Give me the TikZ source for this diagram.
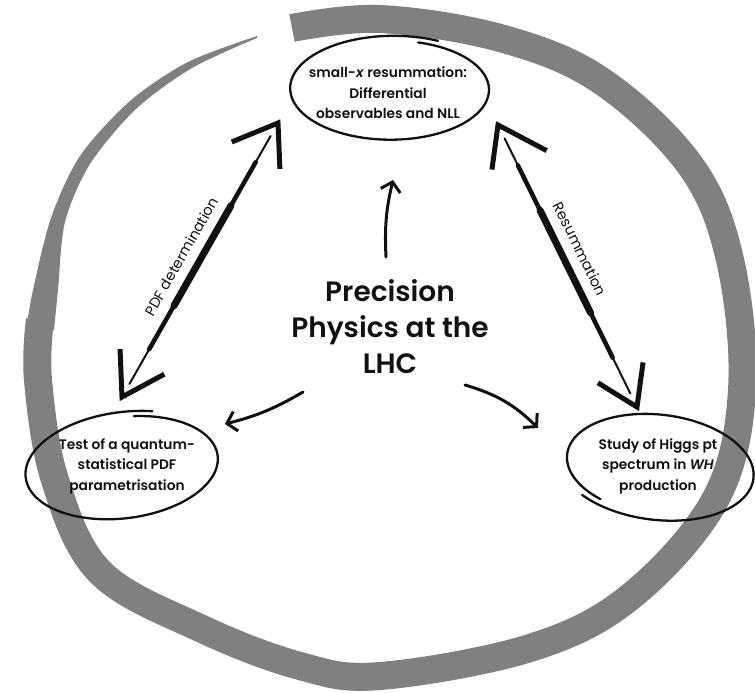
\documentclass[tikz,border=0pt]{standalone}
\usepackage{fontspec}
\setmainfont{Poppins}[BoldFont={Poppins SemiBold}]
\usepackage{xcolor}
\usetikzlibrary{arrows.meta,calc}
\definecolor{INK}{HTML}{111111}
\definecolor{BRUSH}{HTML}{808080}

\begin{document}
\begin{tikzpicture}[
    x=1pt, y=-1pt,
    brush/.style={draw=BRUSH, line width=28pt, line cap=butt},
    oval/.style={draw=INK, line width=2.3pt, line cap=round},
    topic/.style={align=center, font=\bfseries\fontsize{13.8}{20.5}\selectfont, text=INK},
    title/.style={align=center, font=\bfseries\fontsize{28}{36}\selectfont, text=INK},
    flow/.style={draw=INK, line width=3pt, line cap=round, -{Straight Barb[length=9pt, width=20pt, line width=3pt]}},
    shaft/.style={draw=INK, line cap=round},
    barb/.style={draw=INK, line width=5pt, line join=miter},
    edgelab/.style={font=\fontsize{14.5}{16}\selectfont, text=INK},
  ]
  \useasboundingbox (0,0) rectangle (755,693);

  % brush ring
  \draw[brush] plot[smooth, tension=0.6] coordinates {(292,28) (380,19) (500,38) (600,80) (690,165) (730,260) (742,390) (715,500) (630,597) (530,648) (380,676) (300,666) (200,628) (100,572) (55,480) (38,380) (40,320)};
  \fill[BRUSH] plot[smooth] coordinates {(26,330) (33,290) (51,218) (80,156) (130,101) (188,62) (257,36)}
    -- plot[smooth] coordinates {(257,38) (192,68) (136,109) (90,164) (65,222) (58,290) (54,330)} -- cycle;

  % topics
  \node[title] (lhc) at (390,327) {Precision\\Physics at the\\LHC};
  \node[topic] (smallx) at (388,93) {small-\textit{x} resummation:\\Differential\\observables and NLL};
  \node[topic] (qspdf) at (127,466) {Test of a quantum-\\statistical PDF\\parametrisation};
  \node[topic] (higgs) at (658,466) {Study of Higgs pt\\spectrum in \textit{WH}\\production};

  % hand drawn ovals
  \begin{scope}[shift={(smallx.center)}]
    \draw[oval] plot[domain=-74:296, samples=80, smooth]
      ({4+100*(0.95+0.1*(\x+74)/370)*cos(\x)}, {-4+51*(0.95+0.1*(\x+74)/370)*sin(\x)});
  \end{scope}
  \begin{scope}[shift={(qspdf.center)}, rotate=7]
    \draw[oval] plot[domain=-80:290, samples=80, smooth]
      ({-3+97*(0.95+0.1*(\x+80)/370)*cos(\x)}, {52*(0.95+0.1*(\x+80)/370)*sin(\x)});
  \end{scope}
  \begin{scope}[shift={(higgs.center)}, rotate=-7]
    \draw[oval] plot[domain=126:496, samples=80, smooth]
      ({95*(0.95+0.1*(\x-126)/370)*cos(\x)}, {52*(0.95+0.1*(\x-126)/370)*sin(\x)});
  \end{scope}

  % arrows out of the centre
  \coordinate (upS) at (386,257);
  \coordinate (upE) at (393,180);
  \coordinate (leftS) at (303,392);
  \coordinate (leftE) at (225,424);
  \coordinate (rightS) at (465,385);
  \coordinate (rightE) at (538,428);
  \draw[flow] (upS) to[bend left=8] (upE);
  \draw[flow] (leftS) to[bend left=8] (leftE);
  \draw[flow] (rightS) to[bend left=14] (rightE);

  % double arrows between topics
  \coordinate (pdfA) at (122,397);
  \coordinate (pdfB) at (278,123);
  \coordinate (resA) at (498,125);
  \coordinate (resB) at (637,407);
  \draw[shaft, line width=2pt, shorten <=15pt, shorten >=15pt] (pdfA) -- node[edgelab, above=8pt, sloped, pos=0.48] {PDF determination} (pdfB);
  \draw[shaft, line width=4.5pt, shorten <=55pt, shorten >=45pt] (pdfA) -- (pdfB);
  \draw[shaft, line width=7pt, shorten <=105pt, shorten >=95pt] (pdfA) -- (pdfB);
  \draw[barb] ($(pdfB)!46pt!32:(pdfA)$) -- (pdfB) -- ($(pdfB)!50pt!-38:(pdfA)$);
  \draw[barb] ($(pdfA)!48pt!32:(pdfB)$) -- (pdfA) -- ($(pdfA)!48pt!-32:(pdfB)$);

  \draw[shaft, line width=2pt, shorten <=15pt, shorten >=15pt] (resA) -- node[edgelab, above=9pt, sloped, pos=0.47] {Resummation} (resB);
  \draw[shaft, line width=4.5pt, shorten <=45pt, shorten >=55pt] (resA) -- (resB);
  \draw[shaft, line width=7pt, shorten <=95pt, shorten >=105pt] (resA) -- (resB);
  \draw[barb] ($(resA)!55pt!36:(resB)$) -- (resA) -- ($(resA)!45pt!-34:(resB)$);
  \draw[barb] ($(resB)!46pt!32:(resA)$) -- (resB) -- ($(resB)!45pt!-34:(resA)$);

\end{tikzpicture}
\end{document}
